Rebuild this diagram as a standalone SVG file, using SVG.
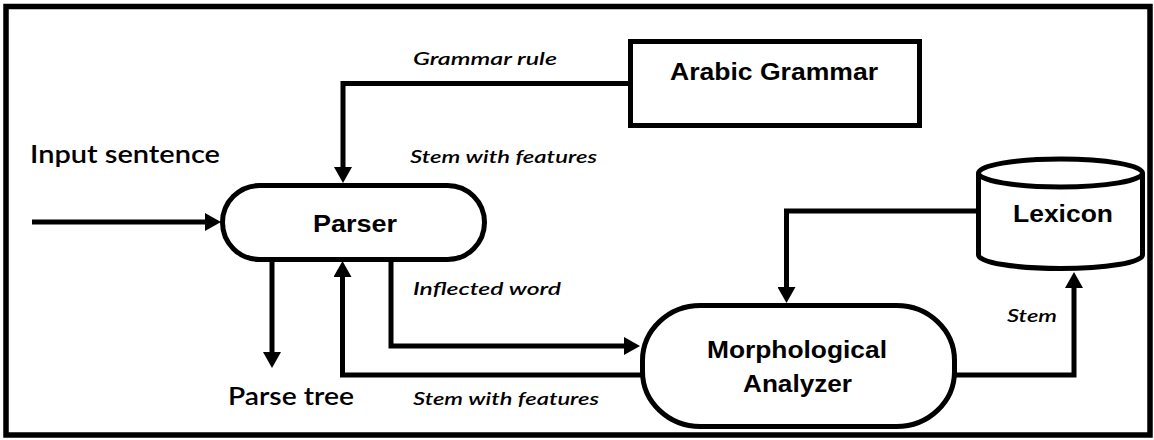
<svg xmlns="http://www.w3.org/2000/svg" width="1154" height="440" viewBox="0 0 1154 440">
  <style>
    .shape { fill: #fff; stroke: #000; stroke-width: 5; }
    .conn { fill: none; stroke: #000; stroke-width: 5; stroke-linejoin: miter; }
    .node { font-family: "Liberation Sans", Arial, sans-serif; font-weight: bold; font-size: 23px; fill: #000; }
    .lbl { font-family: Lato, "DejaVu Sans", sans-serif; font-weight: 600; font-size: 24px; fill: #000; }
    .ital { font-family: Lato, "DejaVu Sans", sans-serif; font-weight: 600; font-style: italic; font-size: 18px; fill: #000; }
  </style>
  <defs>
    <marker id="ah" viewBox="0 0 16 18" refX="0" refY="9" markerWidth="16" markerHeight="18" orient="auto" markerUnits="userSpaceOnUse">
      <path d="M0,0 L16,9 L0,18 Z" fill="#000"/>
    </marker>
  </defs>

  <rect x="6" y="6.5" width="1144" height="428.5" fill="#fff" stroke="#000" stroke-width="5.5"/>

  <g id="connectors">
    <path class="conn" d="M32,222 H205" marker-end="url(#ah)"/>
    <path class="conn" d="M630,83.5 H343 V167" marker-end="url(#ah)"/>
    <path class="conn" d="M272,260 V352" marker-end="url(#ah)"/>
    <path class="conn" d="M644,375 H342.5 V277" marker-end="url(#ah)"/>
    <path class="conn" d="M391,260 V346 H624" marker-end="url(#ah)"/>
    <path class="conn" d="M978,211 H786.5 V287" marker-end="url(#ah)"/>
    <path class="conn" d="M953,375 H1074 V288" marker-end="url(#ah)"/>
  </g>

  <g id="arabic-grammar">
    <rect class="shape" x="630.5" y="41.5" width="289" height="84"/>
    <text class="node" x="670" y="80" textLength="208" lengthAdjust="spacingAndGlyphs">Arabic Grammar</text>
  </g>

  <g id="parser">
    <rect class="shape" x="222.5" y="185.5" width="262" height="74" rx="37" ry="37"/>
    <text class="node" x="313" y="232" textLength="84" lengthAdjust="spacingAndGlyphs">Parser</text>
  </g>

  <g id="lexicon">
    <path class="shape" d="M978.5,173 V255 A82,13.5 0 0 0 1142.5,255 V173 A82,14 0 0 0 978.5,173 Z"/>
    <path class="conn" d="M978.5,173 A82,14 0 0 0 1142.5,173"/>
    <text class="node" x="1013" y="222" textLength="100" lengthAdjust="spacingAndGlyphs">Lexicon</text>
  </g>

  <g id="morphological-analyzer">
    <rect class="shape" x="642.5" y="305.5" width="312" height="121" rx="58" ry="55"/>
    <text class="node" x="707" y="358" textLength="180" lengthAdjust="spacingAndGlyphs">Morphological</text>
    <text class="node" x="743" y="392" textLength="109" lengthAdjust="spacingAndGlyphs">Analyzer</text>
  </g>

  <g id="labels">
    <text class="lbl" x="30" y="163" textLength="190" lengthAdjust="spacingAndGlyphs">Input sentence</text>
    <text class="lbl" x="228" y="405" textLength="126" lengthAdjust="spacingAndGlyphs">Parse tree</text>
    <text class="ital" x="413" y="65" textLength="144" lengthAdjust="spacingAndGlyphs">Grammar rule</text>
    <text class="ital" x="410" y="163" textLength="187" lengthAdjust="spacingAndGlyphs">Stem with features</text>
    <text class="ital" x="413" y="295" textLength="148" lengthAdjust="spacingAndGlyphs">Inflected word</text>
    <text class="ital" x="413" y="405" textLength="186" lengthAdjust="spacingAndGlyphs">Stem with features</text>
    <text class="ital" x="1007" y="322" textLength="50" lengthAdjust="spacingAndGlyphs">Stem</text>
  </g>
</svg>
